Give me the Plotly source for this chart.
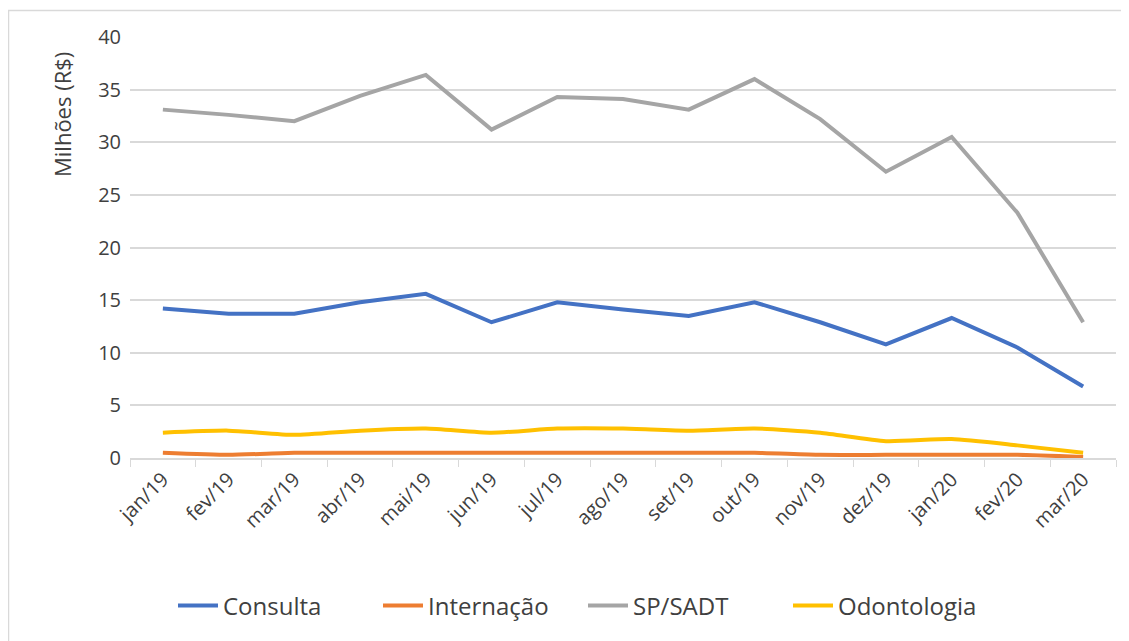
import plotly.graph_objects as go

months = ["jan/19", "fev/19", "mar/19", "abr/19", "mai/19", "jun/19", "jul/19", "ago/19",
          "set/19", "out/19", "nov/19", "dez/19", "jan/20", "fev/20", "mar/20"]
consulta = [14.2, 13.7, 13.7, 14.8, 15.6, 12.9, 14.8, 14.1, 13.5, 14.8, 12.9, 10.8, 13.3, 10.5, 6.8]
internacao = [0.5, 0.3, 0.5, 0.5, 0.5, 0.5, 0.5, 0.5, 0.5, 0.5, 0.3, 0.3, 0.3, 0.3, 0.1]
sp_sadt = [33.1, 32.6, 32.0, 34.4, 36.4, 31.2, 34.3, 34.1, 33.1, 36.0, 32.2, 27.2, 30.5, 23.3, 12.9]
odonto = [2.4, 2.6, 2.2, 2.6, 2.8, 2.4, 2.8, 2.8, 2.6, 2.8, 2.4, 1.6, 1.8, 1.2, 0.5]

series = [("Consulta", consulta, "#4472C4", "linear"),
          ("Internação", internacao, "#ED7D31", "spline"),
          ("SP/SADT", sp_sadt, "#A5A5A5", "linear"),
          ("Odontologia", odonto, "#FFC000", "spline")]

fig = go.Figure()
for name, vals, col, shape in series:
    fig.add_trace(go.Scatter(x=months, y=vals, name=name, mode="lines",
                             line=dict(color=col, width=4, shape=shape, smoothing=0.6)))

# page has an 8px body margin; positions below are relative to the figure
OFF = 8
W, H = 1129 - OFF, 641 - OFF
L = 130 - OFF
T = 37 - OFF
B = H - (458 - OFF)
R = W - (1116 - OFF)
pw, ph = W - L - R, H - T - B

def px2paper_x(px):
    return (px - OFF - L) / pw

def px2paper_y(py):
    return (H - B - (py - OFF)) / ph

fig.add_shape(type="rect", xref="paper", yref="paper",
              x0=px2paper_x(8.5), x1=px2paper_x(1140), y0=px2paper_y(660), y1=px2paper_y(10.5),
              line=dict(color="#D9D9D9", width=1.5), fillcolor="rgba(0,0,0,0)", layer="below")

fig.add_annotation(text="Milhões (R$)", textangle=-90, xref="paper", yref="paper",
                   x=px2paper_x(62), y=px2paper_y(115), xanchor="center", yanchor="middle",
                   showarrow=False, font=dict(size=22, color="#404040"))

fig.update_layout(
    width=W, height=H,
    margin=dict(l=L, r=R, t=T, b=B),
    paper_bgcolor="white", plot_bgcolor="white",
    font=dict(family="Open Sans, Noto Sans, sans-serif", color="#404040", size=20),
    showlegend=True,
    legend=dict(orientation="h", x=px2paper_x(583), xanchor="center", y=px2paper_y(606), yanchor="middle",
                font=dict(size=24, color="#404040"), itemwidth=40, traceorder="normal",
                entrywidthmode="pixels", entrywidth=150),
    xaxis=dict(type="category", range=[-0.5, 14.5], tickangle=-45,
               showgrid=False, showline=True, linecolor="#D9D9D9", linewidth=1.5,
               ticks="outside", ticklen=7, tickcolor="#D9D9D9", tickson="boundaries",
               tickfont=dict(size=20, color="#404040"), zeroline=False),
    yaxis=dict(range=[0, 40], dtick=5, showgrid=True, gridcolor="#D9D9D9", gridwidth=1.5,
               zeroline=False, showline=False, ticks="", ticklabelstandoff=8,
               tickfont=dict(size=20, color="#404040")),
)

fig.write_html("out.html")
